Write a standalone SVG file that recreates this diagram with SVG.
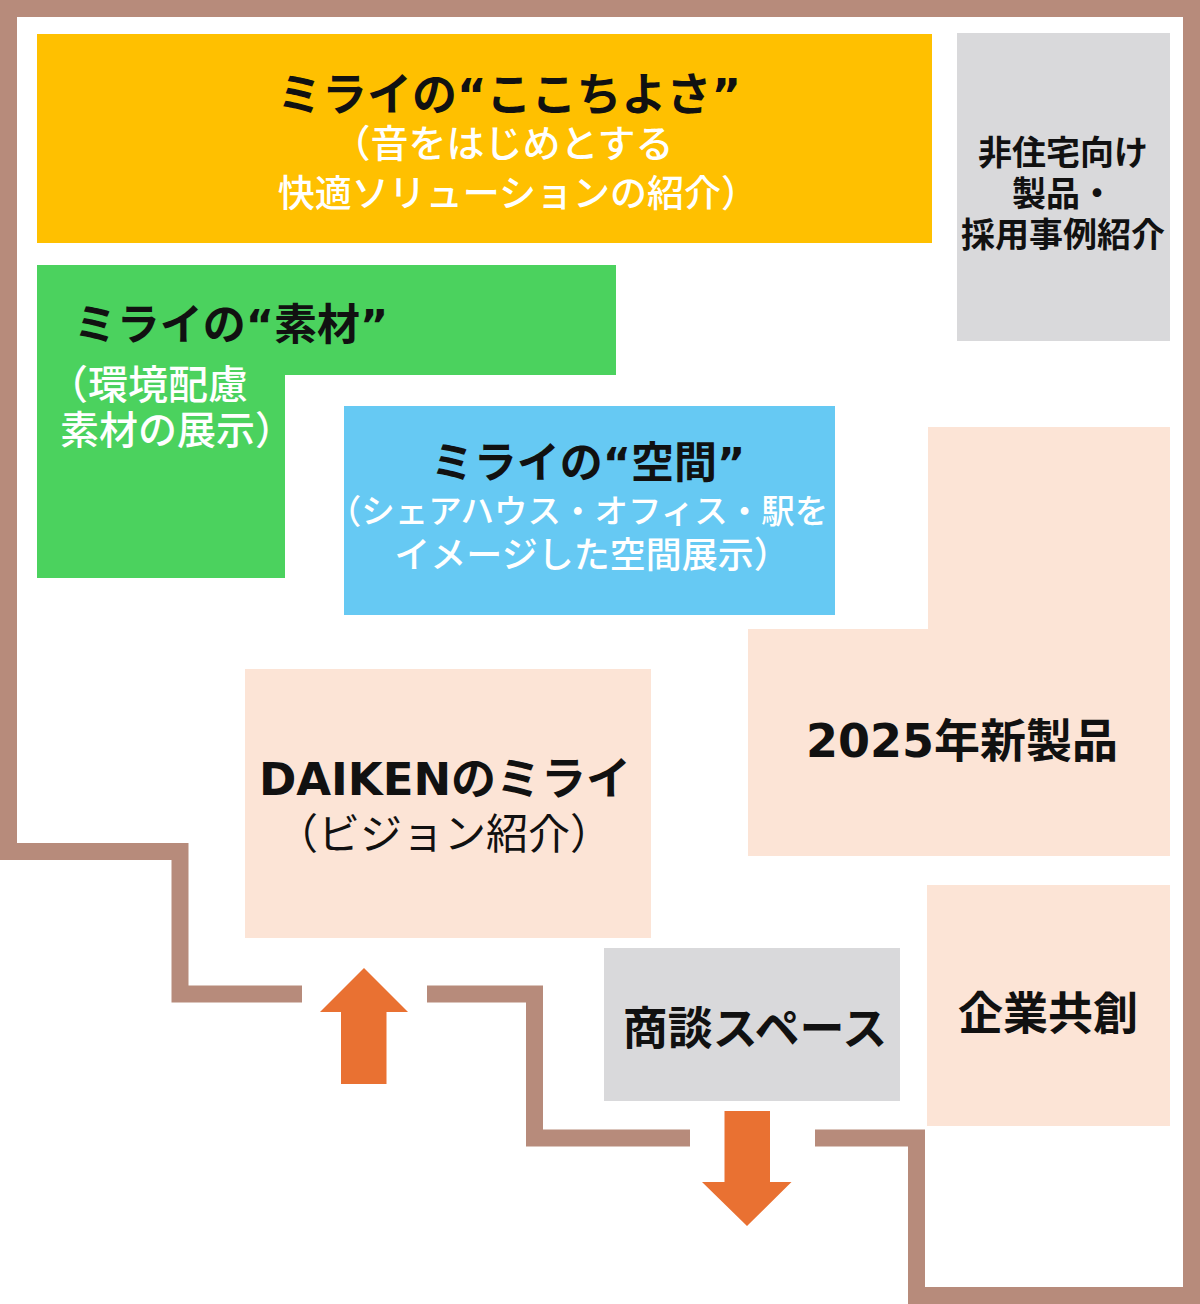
<svg xmlns="http://www.w3.org/2000/svg" width="1200" height="1304" viewBox="0 0 1200 1304">
<style>
text{font-family:"Noto Sans CJK JP","Noto Sans CJK SC",sans-serif;text-anchor:middle}
.l{font-family:"DejaVu Sans","Noto Sans CJK JP",sans-serif}
.h{font-weight:bold;fill:#111}
.w{fill:#fff;font-weight:500}
.r{fill:#111;font-weight:normal}
.wall{fill:none;stroke:#B78B7B;stroke-width:17;stroke-linejoin:miter;stroke-linecap:butt}
.arrow{fill:#E97132}
</style>
<rect width="1200" height="1304" fill="#fff"/>
<g id="walls">
<path class="wall" d="M302 994 H180 V851.5 H8.5 V8.5 H1191.5 V1295.5 H916.5 V1138 H815"/>
<path class="wall" d="M690 1138 H534.5 V994 H427"/>
</g>
<g id="kokochiyosa">
<rect x="37" y="34" width="895" height="209" fill="#FFC000"/>
<text class="h" x="509" y="111" font-size="45">ミライの<tspan class="l">“</tspan>ここちよさ<tspan class="l">”</tspan></text>
<text class="w" x="503" y="157" font-size="38">（音をはじめとする</text>
<text class="w" x="518" y="207" font-size="37">快適ソリューションの紹介）</text>
</g>
<g id="hijutaku">
<rect x="957" y="33" width="213" height="308" fill="#D9D9DB"/>
<text class="h" x="1063" y="165" font-size="34">非住宅向け</text>
<text class="h" x="1063" y="206" font-size="34">製品・</text>
<text class="h" x="1063" y="247" font-size="34">採用事例紹介</text>
</g>
<g id="sozai">
<path d="M37 265 H616 V375 H285 V578 H37 Z" fill="#4BD25E"/>
<text class="h" x="231" y="340" font-size="43">ミライの<tspan class="l">“</tspan>素材<tspan class="l">”</tspan></text>
<text class="w" x="48" y="399" font-size="40" style="text-anchor:start">（環境配慮</text>
<text class="w" x="60" y="444" font-size="39" style="text-anchor:start">素材の展示）</text>
</g>
<g id="kukan">
<rect x="344" y="406" width="491" height="209" fill="#66C9F3"/>
<text class="h" x="588" y="478" font-size="43">ミライの<tspan class="l">“</tspan>空間<tspan class="l">”</tspan></text>
<text class="w" x="578" y="523" font-size="33.5">（シェアハウス・オフィス・駅を</text>
<text class="w" x="592" y="568" font-size="36">イメージした空間展示）</text>
</g>
<g id="shinseihin">
<path d="M928 427 H1170 V856 H748 V629 H928 Z" fill="#FCE4D6"/>
<text class="h" x="962" y="757" font-size="46"><tspan class="l">2025</tspan>年新製品</text>
</g>
<g id="daiken">
<rect x="245" y="669" width="406" height="269" fill="#FCE4D6"/>
<text class="h" x="445" y="795" font-size="45"><tspan class="l">DAIKEN</tspan>のミライ</text>
<text class="r" x="444" y="849" font-size="42">（ビジョン紹介）</text>
</g>
<g id="shodan">
<rect x="604" y="948" width="296" height="153" fill="#D9D9DB"/>
<text class="h" x="755" y="1045" font-size="45">商談スペース</text>
</g>
<g id="kyoso">
<rect x="927" y="885" width="243" height="241" fill="#FCE4D6"/>
<text class="h" x="1048" y="1030" font-size="45">企業共創</text>
</g>
<g id="connectors">
<polygon class="arrow" points="364,968 408,1012 386.5,1012 386.5,1084 341,1084 341,1012 320,1012"/>
<polygon class="arrow" points="724.5,1111 770,1111 770,1182 791.5,1182 747,1226 702,1182 724.5,1182"/>
</g>
</svg>
